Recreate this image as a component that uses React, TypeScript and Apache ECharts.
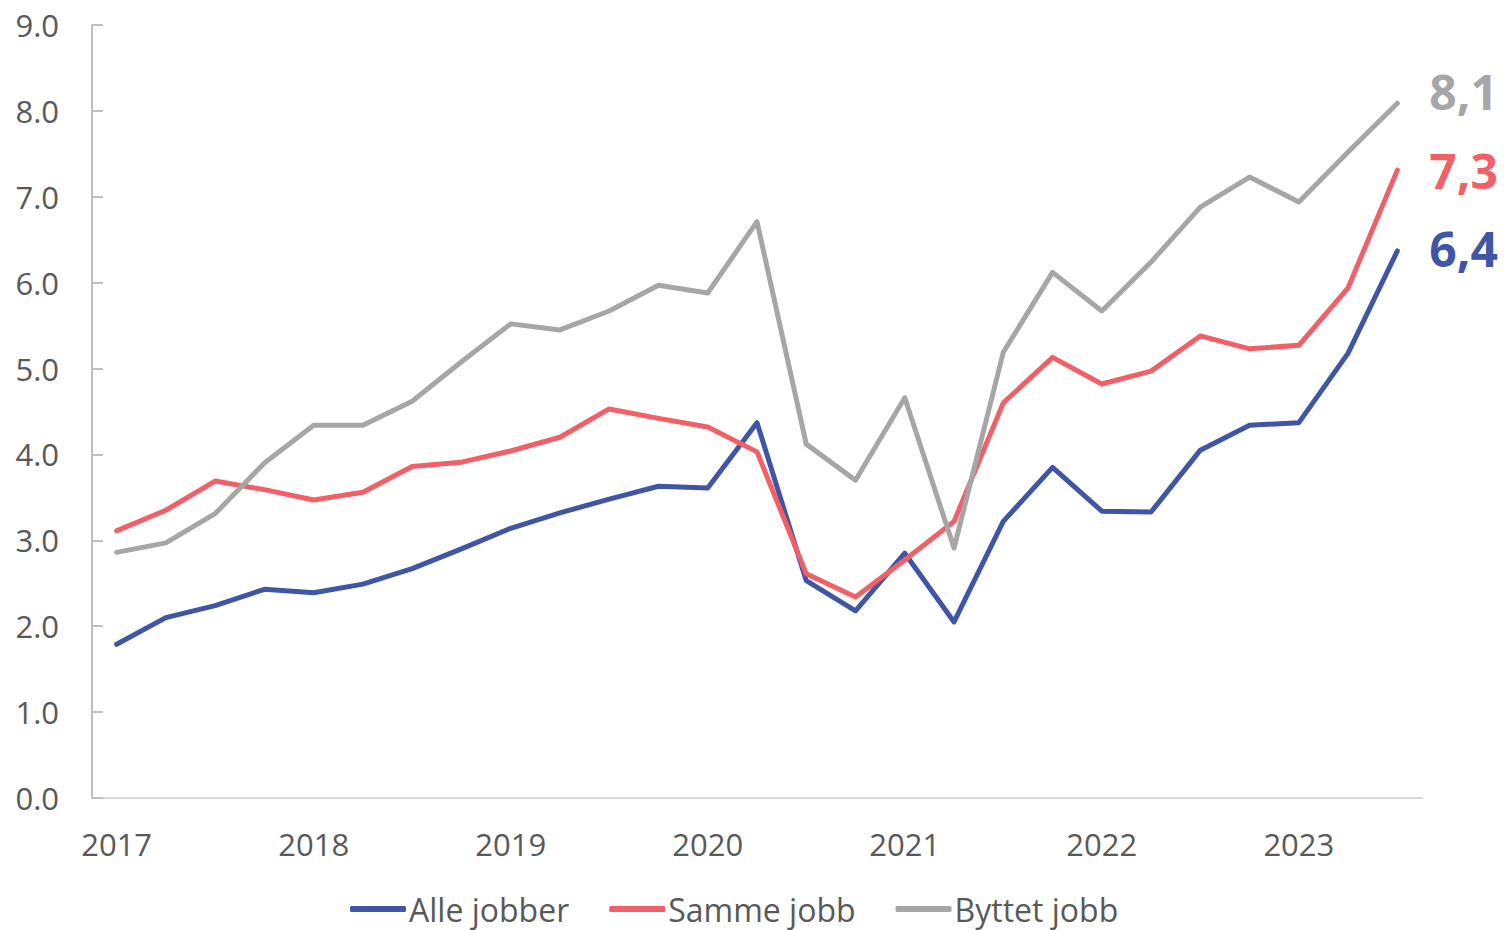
import React, { useEffect, useRef } from "react";
import * as echarts from "echarts";

const quarters = [
  "2017K1", "2017K2", "2017K3", "2017K4",
  "2018K1", "2018K2", "2018K3", "2018K4",
  "2019K1", "2019K2", "2019K3", "2019K4",
  "2020K1", "2020K2", "2020K3", "2020K4",
  "2021K1", "2021K2", "2021K3", "2021K4",
  "2022K1", "2022K2", "2022K3", "2022K4",
  "2023K1", "2023K2", "2023K3",
];

const alleJobber = [
  1.79, 2.1, 2.24, 2.43,
  2.39, 2.49, 2.67, 2.9,
  3.14, 3.32, 3.48, 3.63,
  3.61, 4.37, 2.53, 2.18,
  2.85, 2.05, 3.22, 3.85,
  3.34, 3.33, 4.05, 4.34,
  4.37, 5.18, 6.37,
];

const sammeJobb = [
  3.11, 3.35, 3.69, 3.59,
  3.47, 3.56, 3.86, 3.91,
  4.04, 4.2, 4.53, 4.42,
  4.32, 4.03, 2.61, 2.34,
  2.77, 3.22, 4.6, 5.13,
  4.82, 4.97, 5.38, 5.23,
  5.27, 5.94, 7.31,
];

const byttetJobb = [
  2.86, 2.97, 3.31, 3.9,
  4.34, 4.34, 4.62, 5.08,
  5.52, 5.45, 5.67, 5.97,
  5.88, 6.71, 4.12, 3.7,
  4.66, 2.91, 5.19, 6.12,
  5.67, 6.24, 6.88, 7.23,
  6.94, 7.52, 8.09,
];

const seriesNames = ["Alle jobber", "Samme jobb", "Byttet jobb"];
const seriesColors = ["#3F55A6", "#F25F66", "#A6A6A6"];
const endLabelOffsets = [[0, -2], [0, 0], [0, -12]];

const FONT = "'Open Sans', 'Noto Sans', sans-serif";
const TEXT = "#595959";

export default function App() {
  const ref = useRef<HTMLDivElement>(null);

  useEffect(() => {
    if (!ref.current) return;
    const chart = echarts.init(ref.current, null, { renderer: "svg" });
    const datasets = [alleJobber, sammeJobb, byttetJobb];
    chart.setOption({
      animation: false,
      textStyle: { fontFamily: FONT },
      grid: { left: 92, right: 82, top: 25, bottom: 132 },
      legend: {
        left: 350,
        top: 891,
        padding: 0,
        itemWidth: 56,
        itemHeight: 6,
        itemGap: 40,
        icon: "roundRect",
        textStyle: { fontFamily: FONT, fontSize: 32, lineHeight: 36, color: TEXT, padding: [0, 0, 0, -2] },
        data: seriesNames,
      },
      xAxis: {
        type: "category",
        data: quarters,
        boundaryGap: true,
        axisLine: { show: true, lineStyle: { color: "#D9D9D9", width: 2 } },
        axisTick: { show: false },
        axisLabel: {
          interval: 3,
          margin: 30,
          fontFamily: FONT,
          fontSize: 31,
          color: TEXT,
          formatter: (v: string) => v.slice(0, 4),
        },
        splitLine: { show: false },
      },
      yAxis: {
        type: "value",
        min: 0,
        max: 9,
        interval: 1,
        axisLine: { show: true, lineStyle: { color: "#BFBFBF", width: 2 } },
        axisTick: { show: true, inside: true, length: 11, lineStyle: { color: "#BFBFBF", width: 2 } },
        axisLabel: {
          margin: 33,
          fontFamily: FONT,
          fontSize: 31,
          color: TEXT,
          formatter: (v: number) => v.toFixed(1),
        },
        splitLine: { show: false },
      },
      series: datasets.map((d, i) => ({
        name: seriesNames[i],
        type: "line",
        data: d,
        symbol: "none",
        color: seriesColors[i],
        lineStyle: { width: 5, color: seriesColors[i], cap: "round", join: "round" },
        endLabel: {
          show: true,
          distance: 32,
          offset: endLabelOffsets[i],
          fontFamily: FONT,
          fontSize: 48,
          fontWeight: "bold",
          color: seriesColors[i],
          formatter: (p: any) => Number(p.value).toFixed(1).replace(".", ","),
        },
      })),
    });
    return () => chart.dispose();
  }, []);

  return (
    <div
      ref={ref}
      style={{ position: "absolute", left: 0, top: 0, width: 1504, height: 930 }}
    />
  );
}
